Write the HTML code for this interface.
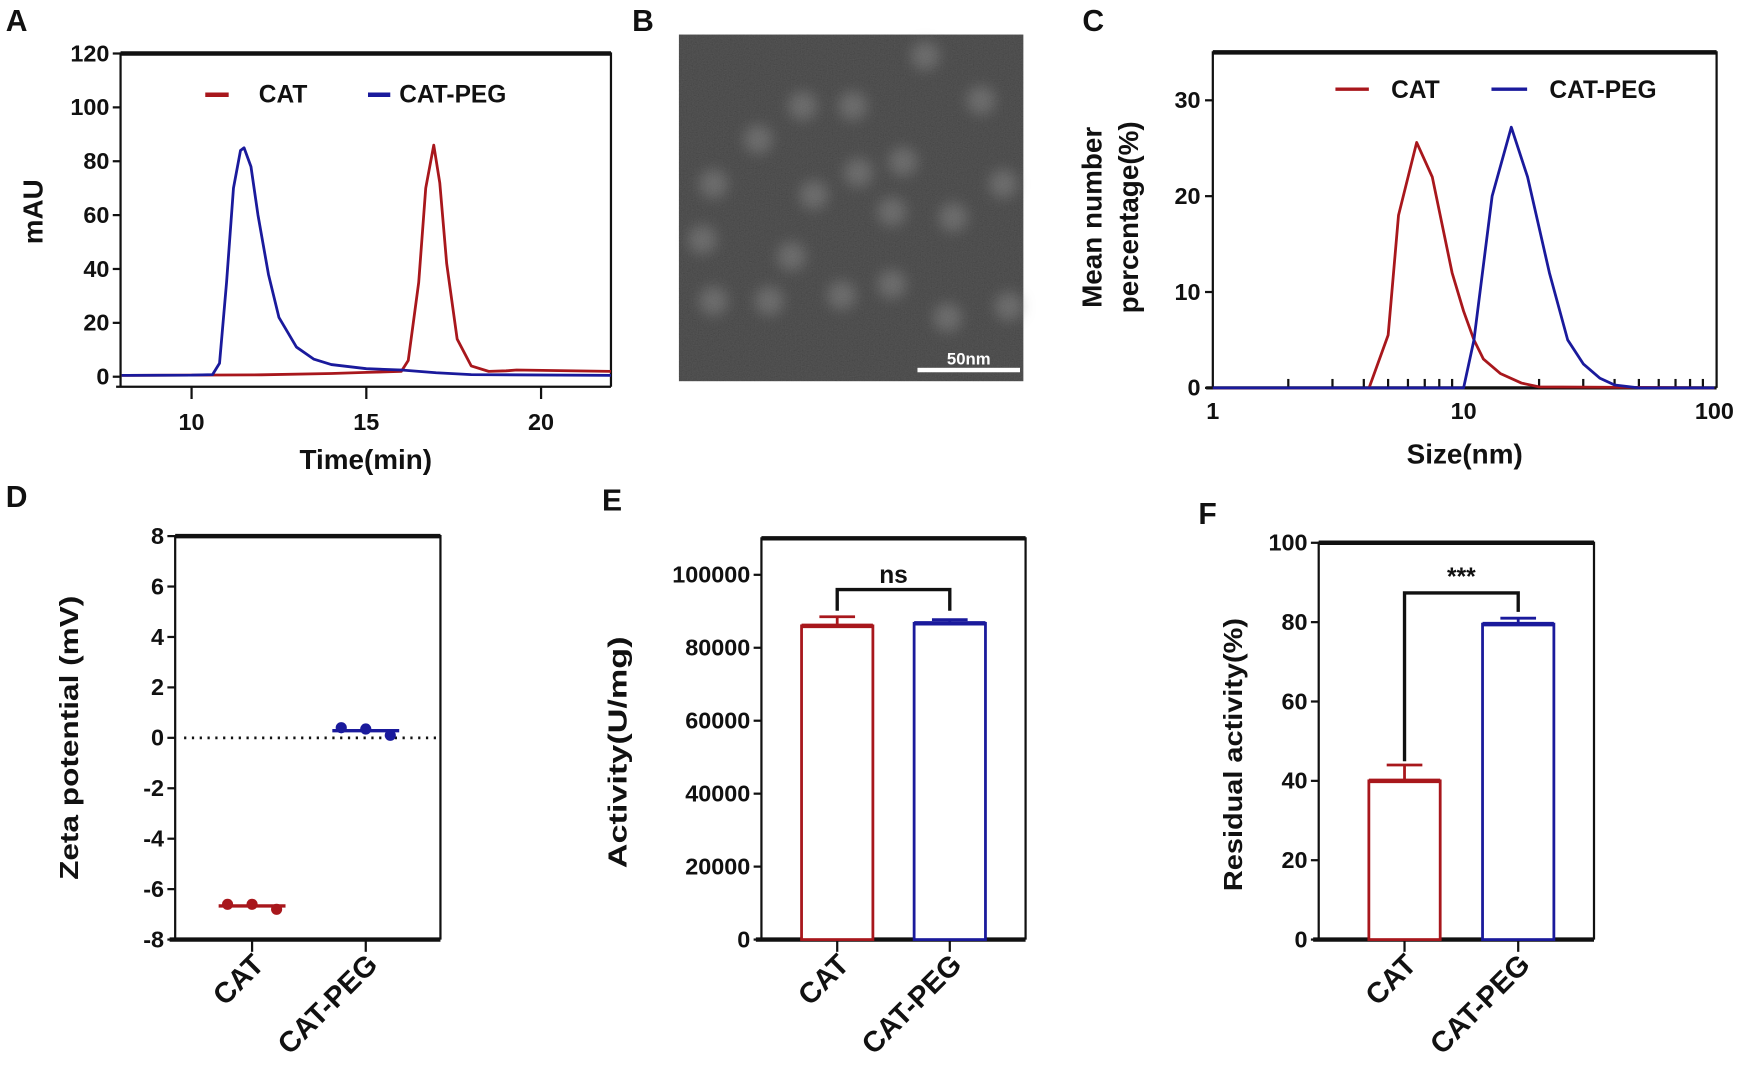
<!DOCTYPE html>
<html><head><meta charset="utf-8"><style>
html,body{margin:0;padding:0;background:#fff;}
svg{display:block;font-family:"Liberation Sans",Arial,sans-serif;}
text{fill:#111;}
</style></head><body>
<svg id="fig" width="1748" height="1080" viewBox="0 0 1568 969">
<defs>
<filter id="noise" x="0" y="0" width="100%" height="100%">
<feTurbulence type="fractalNoise" baseFrequency="0.9" numOctaves="2" seed="3"/>
<feColorMatrix type="matrix" values="0.33 0.33 0.33 0 0  0.33 0.33 0.33 0 0  0.33 0.33 0.33 0 0  0 0 0 0 1"/>
</filter>
<filter id="blur"><feGaussianBlur stdDeviation="6"/></filter>
</defs>
<g font-weight="bold" font-size="27">
<text x="5" y="28">A</text>
<text x="567" y="28">B</text>
<text x="971" y="28">C</text>
<text x="5" y="455">D</text>
<text x="540" y="458">E</text>
<text x="1075" y="470">F</text>
</g>
<g>
<rect x="609" y="31" width="309" height="311" fill="#333"/>
<rect x="609" y="31" width="309" height="311" filter="url(#noise)" opacity="0.2"/>
<g id="blobs" filter="url(#blur)" fill="#9a9a9a" opacity="0.4"></g>
<rect x="823" y="330" width="92" height="4" fill="#fff"/>
<text x="869" y="327" font-size="15" font-weight="bold" text-anchor="middle" style="fill:#fff">50nm</text>
</g>
<g id="root"></g>
</svg>
<script>
const aTimeBlue=[8,10,10.6,10.8,11,11.2,11.4,11.5,11.7,11.9,12.2,12.5,13,13.5,14,15,16,17,18,22];
const aBlue=[0.5,0.6,0.8,5,35,70,84,85,78,60,38,22,11,6.5,4.5,3,2.5,1.5,0.8,0.5];
const aTimeRed=[8,10,12,14,15,16,16.2,16.5,16.7,16.93,17.1,17.3,17.6,18,18.5,19,19.3,22];
const aRed=[0.5,0.6,0.7,1.2,1.6,2,6,35,70,86,72,42,14,4,2,2.2,2.5,2];
const aXTicks=[10,15,20];
const aYTicks=[0,20,40,60,80,100,120];
const cSizeRed=[1,4.2,5,5.5,6.5,7.5,9,10,11,12,14,17,20,100];
const cRed=[0,0,5.5,18,25.6,22,12,8,5,3,1.5,0.5,0.1,0];
const cSizeBlue=[1,10,11,13,15.5,18,22,26,30,35,40,50,100];
const cBlue=[0,0,5,20,27.2,22,12,5,2.5,1,0.3,0,0];
const cXTicks=[1,10,100];
const cYTicks=[0,10,20,30];
const dCats=["CAT","CAT-PEG"];
const dPointsCat=[-6.6,-6.6,-6.8];
const dPointsPeg=[0.4,0.35,0.1];
const dYTicks=[-8,-6,-4,-2,0,2,4,6,8];
const eCats=["CAT","CAT-PEG"];
const eValues=[86000,86700];
const eErrors=[2500,1000];
const eYTicks=[0,20000,40000,60000,80000,100000];
const fCats=["CAT","CAT-PEG"];
const fValues=[40,79.5];
const fErrors=[4,1.5];
const fYTicks=[0,20,40,60,80,100];
const blobList=[[680,125],[720,95],[765,95],[830,50],[880,90],[640,165],[770,155],[810,145],[900,165],[630,215],[710,230],[800,190],[855,195],[690,270],[755,265],[800,255],[640,270],[850,285],[905,275],[730,175]];

const RED="#a8171c", BLUE="#1a1a9c";
const NS="http://www.w3.org/2000/svg";
const root=document.getElementById('root');
function mk(tag,attrs,parent,txt){const e=document.createElementNS(NS,tag);for(const k in attrs)e.setAttribute(k,attrs[k]);if(txt!==undefined)e.textContent=txt;(parent||root).appendChild(e);return e;}
function lin(d0,d1,r0,r1){return v=>r0+(v-d0)/(d1-d0)*(r1-r0);}
function pathD(xs,ys,sx,sy){return xs.map((x,i)=>(i?'L':'M')+sx(x).toFixed(1)+','+sy(ys[i]).toFixed(1)).join(' ');}

const bg=document.getElementById('blobs');
blobList.forEach(b=>{const c=mk('circle',{cx:b[0],cy:b[1],r:13},bg);

});

{
const g=mk('g',{});


const sx=lin(8,22,109,548), sy=lin(0,120,338,48);
const fr=mk('path',{d:'M108,347 L108,48 L548,48 L548,347',fill:'none',stroke:'#111','stroke-width':2},g);


const ax=mk('line',{x1:104,y1:347,x2:548,y2:347,stroke:'#111','stroke-width':2},g);


const tb=mk('line',{x1:108,y1:48,x2:548,y2:48,stroke:'#111','stroke-width':4},g);


aXTicks.forEach(t=>{const l=mk('line',{x1:sx(t),y1:347,x2:sx(t),y2:358,stroke:'#111','stroke-width':2},g);


const tx=mk('text',{x:sx(t),y:386,'font-size':21,'font-weight':'bold','text-anchor':'middle'},g,t);

});
aYTicks.forEach(t=>{const l=mk('line',{x1:101,y1:sy(t),x2:108,y2:sy(t),stroke:'#111','stroke-width':2},g);


const tx=mk('text',{x:98,y:sy(t)+7,'font-size':21,'font-weight':'bold','text-anchor':'end'},g,t);

});
const xt=mk('text',{x:328,y:421,'font-size':25,'font-weight':'bold','text-anchor':'middle'},g,'Time(min)');


const yt=mk('text',{x:0,y:0,'font-size':25,'font-weight':'bold','text-anchor':'middle',transform:'translate(38,190) rotate(-90)'},g,'mAU');


const pr=mk('path',{d:pathD(aTimeRed,aRed,sx,sy),fill:'none',stroke:RED,'stroke-width':2.5,'stroke-linejoin':'round'},g);


const pb=mk('path',{d:pathD(aTimeBlue,aBlue,sx,sy),fill:'none',stroke:BLUE,'stroke-width':2.5,'stroke-linejoin':'round'},g);


const l1=mk('line',{x1:184,y1:85,x2:205,y2:85,stroke:RED,'stroke-width':4},g);


const t1=mk('text',{x:232,y:92,'font-size':22,'font-weight':'bold'},g,'CAT');


const l2=mk('line',{x1:330,y1:85,x2:350,y2:85,stroke:BLUE,'stroke-width':4},g);


const t2=mk('text',{x:358,y:92,'font-size':22,'font-weight':'bold'},g,'CAT-PEG');


}

{
const g=mk('g',{});


const lx=v=>1088+Math.log10(v)*225, sy=lin(0,35,348,47);
const fr=mk('path',{d:'M1088,348 L1088,47 L1540,47 L1540,348',fill:'none',stroke:'#111','stroke-width':2},g);


const tb=mk('line',{x1:1088,y1:47,x2:1540,y2:47,stroke:'#111','stroke-width':4},g);


const ax=mk('line',{x1:1082,y1:348,x2:1540,y2:348,stroke:'#111','stroke-width':3},g);


[2,3,4,5,6,7,8,9,20,30,40,50,60,70,80,90].forEach(m=>{const l=mk('line',{x1:lx(m),y1:348,x2:lx(m),y2:340,stroke:'#111','stroke-width':2},g);

});
cXTicks.forEach(t=>{const tx=mk('text',{x:lx(t),y:376,'font-size':21,'font-weight':'bold','text-anchor':'middle'},g,t);

});
cYTicks.forEach(t=>{const l=mk('line',{x1:1081,y1:sy(t),x2:1088,y2:sy(t),stroke:'#111','stroke-width':2},g);


const tx=mk('text',{x:1077,y:sy(t)+7,'font-size':21,'font-weight':'bold','text-anchor':'end'},g,t);

});
const xt=mk('text',{x:1314,y:416,'font-size':25,'font-weight':'bold','text-anchor':'middle'},g,'Size(nm)');


const yt=mk('text',{'font-size':25,'font-weight':'bold','text-anchor':'middle',transform:'translate(988,195) rotate(-90)'},g,'Mean number');


const yt2=mk('text',{'font-size':25,'font-weight':'bold','text-anchor':'middle',transform:'translate(1021,195) rotate(-90)'},g,'percentage(%)');


const pr=mk('path',{d:pathD(cSizeRed,cRed,lx,sy),fill:'none',stroke:RED,'stroke-width':2.5,'stroke-linejoin':'round'},g);


const pb=mk('path',{d:pathD(cSizeBlue,cBlue,lx,sy),fill:'none',stroke:BLUE,'stroke-width':2.5,'stroke-linejoin':'round'},g);


const l1=mk('line',{x1:1198,y1:80,x2:1228,y2:80,stroke:RED,'stroke-width':3},g);


const t1=mk('text',{x:1248,y:88,'font-size':22,'font-weight':'bold'},g,'CAT');


const l2=mk('line',{x1:1338,y1:80,x2:1370,y2:80,stroke:BLUE,'stroke-width':3},g);


const t2=mk('text',{x:1390,y:88,'font-size':22,'font-weight':'bold'},g,'CAT-PEG');


}

function frame(g,L,R,T,B,ticks,sy,tickFmt,cats,cx){
const fr=mk('path',{d:`M${L},${B} L${L},${T} L${R},${T} L${R},${B}`,fill:'none',stroke:'#111','stroke-width':2},g);


const tb=mk('line',{x1:L,y1:T,x2:R,y2:T,stroke:'#111','stroke-width':4},g);


const ax=mk('line',{x1:L-5,y1:B,x2:R,y2:B,stroke:'#111','stroke-width':4},g);


ticks.forEach(t=>{const l=mk('line',{x1:L-7,y1:sy(t),x2:L,y2:sy(t),stroke:'#111','stroke-width':2},g);


const tx=mk('text',{x:L-10,y:sy(t)+7,'font-size':21,'font-weight':'bold','text-anchor':'end'},g,tickFmt(t));

});
cats.forEach((c,i)=>{const x=cx(i);
const l=mk('line',{x1:x,y1:B,x2:x,y2:B+11,stroke:'#111','stroke-width':2},g);


const tx=mk('text',{'font-size':26,'font-weight':'bold','text-anchor':'end',transform:`translate(${x+12},${B+24}) rotate(-45)`},g,c);

});
}

{
const g=mk('g',{});


const sy=lin(-8,8,843,481), cx=i=>[226,328][i];
frame(g,157,395,481,843,dYTicks,sy,t=>t,dCats,cx);
const dl=mk('line',{x1:165,y1:sy(0),x2:395,y2:sy(0),stroke:'#111','stroke-width':2.5,'stroke-dasharray':'2,5'},g);


const yt=mk('text',{'font-size':23,'font-weight':'bold','text-anchor':'middle',textLength:255,lengthAdjust:'spacingAndGlyphs',transform:`translate(70,${sy(0)}) rotate(-90)`},g,'Zeta potential (mV)');


[[dPointsCat,RED,0],[dPointsPeg,BLUE,1]].forEach(([pts,col,i])=>{
const mean=pts.reduce((a,b)=>a+b,0)/pts.length;
const ml=mk('line',{x1:cx(i)-30,y1:sy(mean),x2:cx(i)+30,y2:sy(mean),stroke:col,'stroke-width':3},g);


pts.forEach((p,j)=>{const c=mk('circle',{cx:cx(i)-22+j*22,cy:sy(p),r:5,fill:col},g);

});});
}

function barPanel(name,L,R,T,B,ymax,ticks,fmt,cats,vals,errs,cxs,title,titleX,titleLen,bracketY,leftDrop,rightDrop,sig,sigY){
const g=mk('g',{});


const sy=lin(0,ymax,B,T), cx=i=>cxs[i];
frame(g,L,R,T,B,ticks,sy,fmt,cats,cx);
const yt=mk('text',{'font-size':23,'font-weight':'bold','text-anchor':'middle',textLength:titleLen,lengthAdjust:'spacingAndGlyphs',transform:`translate(${titleX},${(T+B)/2+12}) rotate(-90)`},g,title);


vals.forEach((v,i)=>{const col=i?BLUE:RED;
const e=mk('path',{d:`M${cx(i)},${sy(v)} L${cx(i)},${sy(v+errs[i])} M${cx(i)-16},${sy(v+errs[i])} L${cx(i)+16},${sy(v+errs[i])}`,stroke:col,'stroke-width':2.5,fill:'none'},g);


const r=mk('rect',{x:cx(i)-32,y:sy(v),width:64,height:B-sy(v),fill:'#fff',stroke:col,'stroke-width':2.5},g);


const tl=mk('line',{x1:cx(i)-32,y1:sy(v),x2:cx(i)+32,y2:sy(v),stroke:col,'stroke-width':4},g);

});
const br=mk('path',{d:`M${cx(0)},${leftDrop} L${cx(0)},${bracketY} L${cx(1)},${bracketY} L${cx(1)},${rightDrop}`,fill:'none',stroke:'#111','stroke-width':3},g);


const st=mk('text',{x:(cx(0)+cx(1))/2,y:sigY,'font-size':22,'font-weight':'bold','text-anchor':'middle'},g,sig);


}
barPanel('panel-e-activity',683,920,483,843,110000,eYTicks,t=>t,eCats,eValues,eErrors,[751,852],'Activity(U/mg)',562,208,529,548,548,'ns',523);
barPanel('panel-f-residual-activity',1183,1430,487,843,100,fYTicks,t=>t,fCats,fValues,fErrors,[1260,1362],'Residual activity(%)',1114,245,532,683,549,'***',525);
</script>
</body></html>
